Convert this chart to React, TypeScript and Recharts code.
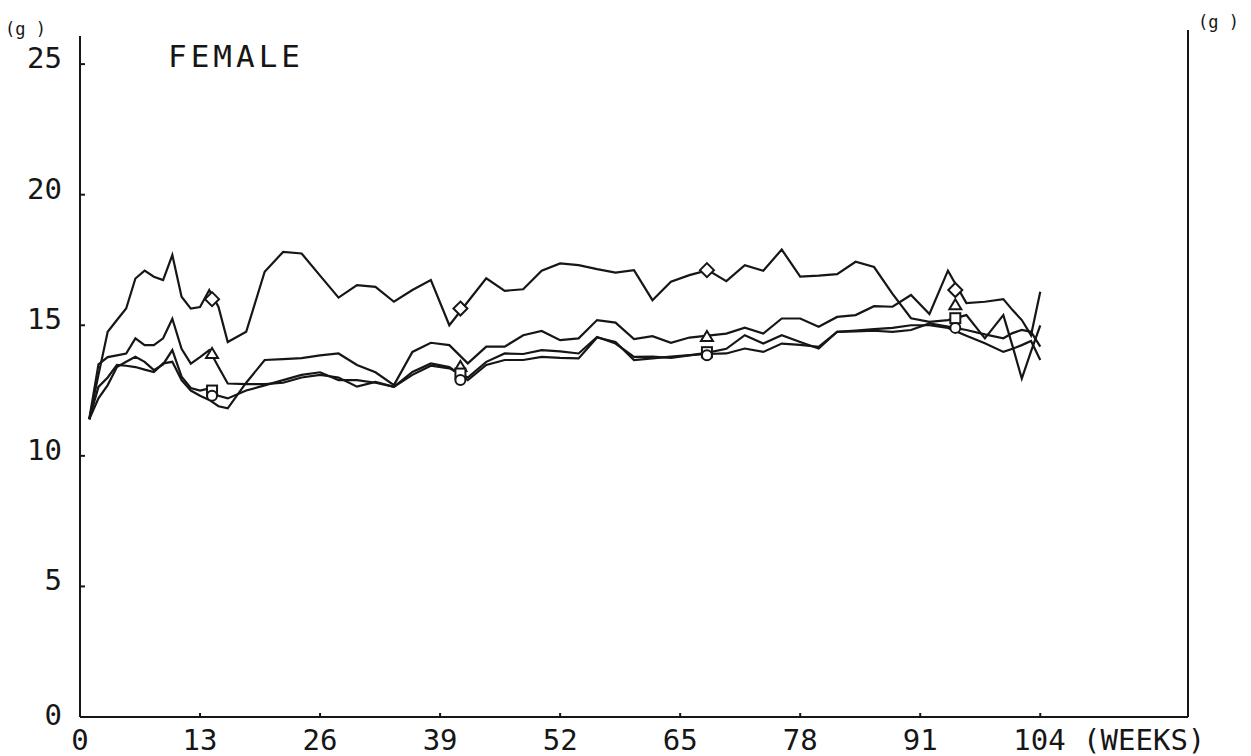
import { ComposedChart, Line, Scatter, XAxis, YAxis } from "recharts";

// weeks on test (x axis)
const WEEKS = [
  1, 2, 3, 4, 5, 6, 7, 8, 9, 10, 11, 12, 13, 14, 15, 16, 18, 20, 22, 24, 26, 28, 30, 32, 34, 36, 38, 40, 42,
  44, 46, 48, 50, 52, 54, 56, 58, 60, 62, 64, 66, 68, 70, 72, 74, 76, 78, 80, 82, 84, 86, 88, 90, 92, 94, 96,
  98, 100, 101, 102, 103, 104,
];

// body weight (g), one list per group
const GROUP_DIAMOND = [
  11.4, 13.1, 14.75, 15.2, 15.64, 16.79, 17.09, 16.86, 16.73, 17.69, 16.09, 15.64, 15.7, 16.35, 15.7, 14.36,
  14.75, 17.05, 17.81, 17.75, 16.9, 16.06, 16.54, 16.47, 15.9, 16.35, 16.73, 15.0, 15.9, 16.8, 16.32, 16.38,
  17.09, 17.37, 17.3, 17.15, 17.02, 17.11, 15.96, 16.67, 16.92, 17.11, 16.69, 17.3, 17.09, 17.9, 16.86, 16.9,
  16.96, 17.43, 17.23, 16.2, 15.27, 15.13, 15.2, 15.39, 14.5, 15.39, 14.2, 12.96, 14.0, 15.0,
];
const GROUP_TRIANGLE = [
  11.4, 13.5, 13.78, 13.85, 13.92, 14.5, 14.24, 14.24, 14.5, 15.25, 14.1, 13.53, 13.78, 14.05, 13.4, 12.77,
  12.75, 12.75, 12.8, 13.0, 13.1, 13.0, 12.65, 12.83, 12.64, 13.21, 13.54, 13.4, 12.9, 13.48, 13.67, 13.67,
  13.79, 13.75, 13.73, 14.53, 14.36, 13.67, 13.73, 13.8, 13.86, 13.9, 13.92, 14.11, 13.98, 14.3, 14.25, 14.17,
  14.75, 14.77, 14.79, 14.75, 14.82, 15.07, 14.95, 14.82, 14.65, 14.5, 14.7, 14.82, 14.75, 14.18,
];
const GROUP_SQUARE = [
  11.4, 12.2, 12.71, 13.4, 13.6, 13.79, 13.6, 13.28, 13.5, 14.05, 13.03, 12.6, 12.5, 12.58, 12.3, 12.2, 12.5,
  12.7, 12.9, 13.1, 13.2, 12.9, 12.9, 12.8, 12.64, 13.1, 13.45, 13.35, 13.0, 13.6, 13.92, 13.9, 14.05, 14.0,
  13.92, 14.55, 14.3, 13.79, 13.8, 13.75, 13.85, 13.95, 14.1, 14.62, 14.3, 14.62, 14.36, 14.11, 14.75, 14.8,
  14.85, 14.9, 15.0, 15.0, 14.9, 14.6, 14.31, 13.98, 14.1, 14.24, 14.4, 13.67,
];
const GROUP_CIRCLE = [
  11.4, 12.64, 13.0, 13.48, 13.45, 13.4, 13.3, 13.21, 13.54, 13.6, 12.9, 12.5, 12.3, 12.14, 11.9, 11.82, 12.8,
  13.67, 13.7, 13.74, 13.85, 13.92, 13.48, 13.2, 12.71, 13.98, 14.33, 14.24, 13.54, 14.18, 14.18, 14.62, 14.78,
  14.43, 14.5, 15.2, 15.1, 14.47, 14.58, 14.33, 14.53, 14.6, 14.68, 14.91, 14.68, 15.26, 15.26, 14.94, 15.32,
  15.39, 15.73, 15.71, 16.16, 15.43, 17.09, 15.85, 15.9, 16.0, 15.58, 15.2, 14.62, 16.28,
];

// group symbols drawn on the curves
const MARK_WEEKS = [14.3, 41.2, 67.9, 94.8];
const MARK_DIAMOND = [16.0, 15.64, 17.11, 16.35];
const MARK_TRIANGLE = [13.9, 13.4, 14.55, 15.77];
const MARK_SQUARE = [12.5, 13.15, 13.97, 15.27];
const MARK_CIRCLE = [12.3, 12.9, 13.85, 14.9];

const X_TICKS = [0, 13, 26, 39, 52, 65, 78, 91, 104];
const Y_TICKS = [0, 5, 10, 15, 20, 25];

const data = WEEKS.map((week, i) => ({
  week,
  diamond: GROUP_DIAMOND[i],
  triangle: GROUP_TRIANGLE[i],
  square: GROUP_SQUARE[i],
  circle: GROUP_CIRCLE[i],
}));

const marks = (vals: number[]) => MARK_WEEKS.map((week, i) => ({ week, v: vals[i] }));

const INK = "#161616";
const FONT = "'DejaVu Sans Mono', monospace";
const FS = 29;

// eslint-disable-next-line @typescript-eslint/no-explicit-any
const LeftTick = ({ x, y, payload }: any) => (
  <g>
    <line x1={x} y1={y} x2={x + 5} y2={y} stroke={INK} strokeWidth={2} />
    <text x={x - 18} y={y + (payload.value === 0 ? 8 : 4)} textAnchor="end" fontFamily={FONT} fontSize={FS} fill={INK}>
      {payload.value}
    </text>
  </g>
);

// eslint-disable-next-line @typescript-eslint/no-explicit-any
const RightTick = ({ x, y, payload }: any) => (
  <g>
    <line x1={x} y1={y} x2={x - 5} y2={y} stroke={INK} strokeWidth={2} />
    <text x={x + 10} y={y + 8} textAnchor="start" fontFamily={FONT} fontSize={FS} fill={INK}>
      {payload.value}
    </text>
  </g>
);

// eslint-disable-next-line @typescript-eslint/no-explicit-any
const BottomTick = ({ x, y, payload }: any) => (
  <g>
    {payload.value > 0 && <line x1={x} y1={y} x2={x} y2={y - 4} stroke={INK} strokeWidth={2} />}
    {payload.value === 104 ? (
      <text x={x - 27} y={y + 33} textAnchor="start" fontFamily={FONT} fontSize={FS} fill={INK}>
        104 (WEEKS)
      </text>
    ) : (
      <text x={x} y={y + 33} textAnchor="middle" fontFamily={FONT} fontSize={FS} fill={INK}>
        {payload.value}
      </text>
    )}
  </g>
);

// eslint-disable-next-line @typescript-eslint/no-explicit-any
const Diamond = ({ cx, cy }: any) => (
  <path d={`M${cx},${cy - 7} L${cx + 7},${cy} L${cx},${cy + 7} L${cx - 7},${cy} Z`} fill="#fff" stroke={INK} strokeWidth={2} />
);
// eslint-disable-next-line @typescript-eslint/no-explicit-any
const Triangle = ({ cx, cy }: any) => (
  <path d={`M${cx},${cy - 6} L${cx + 6},${cy + 4} L${cx - 6},${cy + 4} Z`} fill="#fff" stroke={INK} strokeWidth={2} />
);
// eslint-disable-next-line @typescript-eslint/no-explicit-any
const Square = ({ cx, cy }: any) => (
  <rect x={cx - 5} y={cy - 5} width={10} height={10} fill="#fff" stroke={INK} strokeWidth={2} />
);
// eslint-disable-next-line @typescript-eslint/no-explicit-any
const Circle = ({ cx, cy }: any) => <circle cx={cx} cy={cy} r={5} fill="#fff" stroke={INK} strokeWidth={2} />;

export default function App() {
  return (
    <div style={{ position: "absolute", left: 0, top: 0, width: 1251, height: 756, background: "#fff" }}>
      <ComposedChart width={1251} height={756} data={data} margin={{ top: 38, right: 0, bottom: 9, left: 0 }}>
        <XAxis
          dataKey="week"
          type="number"
          domain={[0, 120]}
          ticks={X_TICKS}
          interval={0}
          height={30}
          tickSize={0}
          tickMargin={0}
          tickLine={false}
          axisLine={{ stroke: INK, strokeWidth: 2 }}
          tick={<BottomTick />}
        />
        <YAxis
          yAxisId="left"
          domain={[0, 26]}
          ticks={Y_TICKS}
          interval={0}
          width={80}
          tickSize={0}
          tickMargin={0}
          tickLine={false}
          axisLine={{ stroke: INK, strokeWidth: 2 }}
          tick={<LeftTick />}
        />
        <YAxis
          yAxisId="right"
          orientation="right"
          domain={[0, 26]}
          ticks={Y_TICKS}
          interval={0}
          width={63}
          tickSize={0}
          tickMargin={0}
          tickLine={false}
          axisLine={{ stroke: INK, strokeWidth: 2 }}
          tick={<RightTick />}
        />
        {["diamond", "triangle", "square", "circle"].map((k) => (
          <Line
            key={k}
            yAxisId="left"
            dataKey={k}
            type="linear"
            stroke={INK}
            strokeWidth={2.2}
            dot={false}
            activeDot={false}
            isAnimationActive={false}
          />
        ))}
        <Scatter yAxisId="left" data={marks(MARK_DIAMOND)} dataKey="v" shape={<Diamond />} isAnimationActive={false} />
        <Scatter yAxisId="left" data={marks(MARK_TRIANGLE)} dataKey="v" shape={<Triangle />} isAnimationActive={false} />
        <Scatter yAxisId="left" data={marks(MARK_SQUARE)} dataKey="v" shape={<Square />} isAnimationActive={false} />
        <Scatter yAxisId="left" data={marks(MARK_CIRCLE)} dataKey="v" shape={<Circle />} isAnimationActive={false} />
      </ComposedChart>
      <svg width={1251} height={756} style={{ position: "absolute", left: 0, top: 0, pointerEvents: "none" }}>
        <text x={5} y={35} fontFamily={FONT} fontSize={17} fill={INK}>(g )</text>
        <text x={1198} y={28} fontFamily={FONT} fontSize={17} fill={INK}>(g )</text>
        <text x={168} y={67} fontFamily={FONT} fontSize={31} letterSpacing={4} fill={INK}>FEMALE</text>
        {/* the frame's axes run a little above the top tick, as on the plotter sheet */}
        <line x1={80} y1={36} x2={80} y2={40} stroke={INK} strokeWidth={2} />
        <line x1={1188} y1={30} x2={1188} y2={40} stroke={INK} strokeWidth={2} />
      </svg>
    </div>
  );
}
